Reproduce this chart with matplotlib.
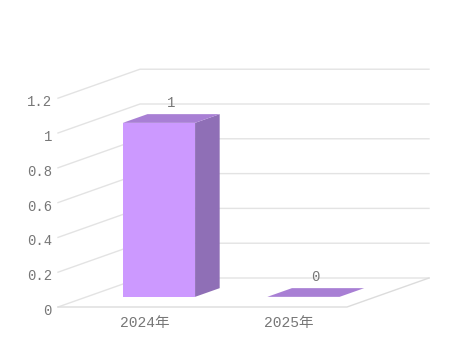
import matplotlib
matplotlib.use("Agg")
import matplotlib.pyplot as plt
from matplotlib.patches import Polygon

plt.rcParams['font.family'] = ['Liberation Mono', 'Noto Sans CJK SC', 'DejaVu Sans']

# data
categories = ['2024年', '2025年']
values = [1, 0]
yticks = [0, 0.2, 0.4, 0.6, 0.8, 1, 1.2]
ytick_labels = ['0', '0.2', '0.4', '0.6', '0.8', '1', '1.2']

# fake 3d: a depth step of 1 moves the point right and up
DX = 82 / 144.5
DY = 29 / 174.0
BAR_W = 0.5
D0, D1 = 0.35, 0.65


def proj(c, v, d):
    return (c + DX * d, v + DY * d)


fig = plt.figure(figsize=(4.65, 3.45), dpi=100)
ax = fig.add_axes([0, 0, 1, 1])
ax.set_xlim(-0.5 - 58 / 144.5, -0.5 + 407 / 144.5)
ax.set_ylim(-38 / 174.0, 307 / 174.0)
ax.axis('off')

grid_col = '#e3e3e3'
left = -0.5
right = len(categories) - 0.5

# walls / grid
for v in yticks:
    a = proj(left, v, 0)
    b = proj(left, v, 1)
    c = proj(right, v, 1)
    ax.plot([a[0], b[0], c[0]], [a[1], b[1], c[1]], color=grid_col, lw=1, zorder=1)
# floor
fl = [proj(left, 0, 0), proj(right, 0, 0), proj(right, 0, 1)]
ax.plot([p[0] for p in fl], [p[1] for p in fl], color='#dcdcdc', lw=1, zorder=1)

front_col = '#cc99ff'
top_col = '#a87fd4'
side_col = '#8f6fb6'

for i, val in enumerate(values):
    x0 = i - BAR_W / 2
    x1 = i + BAR_W / 2
    top = [proj(x0, val, D0), proj(x1, val, D0), proj(x1, val, D1), proj(x0, val, D1)]
    if val > 0:
        front = [proj(x0, 0, D0), proj(x1, 0, D0), proj(x1, val, D0), proj(x0, val, D0)]
        side = [proj(x1, 0, D0), proj(x1, 0, D1), proj(x1, val, D1), proj(x1, val, D0)]
        ax.add_patch(Polygon(front, closed=True, fc=front_col, ec='none', zorder=3))
        ax.add_patch(Polygon(side, closed=True, fc=side_col, ec='none', zorder=3))
    ax.add_patch(Polygon(top, closed=True, fc=top_col, ec='none', zorder=3))
    lx, ly = proj(i, val, 0.5)
    ax.annotate('{:g}'.format(val), (lx, ly), xytext=(0, 6), textcoords='offset points',
                ha='center', va='bottom', fontsize=10, color='#777777', zorder=4)
    ax.text(i + 0.1, -0.092, categories[i], ha='center', va='center',
            fontsize=10.5, color='#777777')

for v, lab in zip(yticks, ytick_labels):
    ax.text(-0.5 - 6 / 144.5, v - 4 / 174.0, lab, ha='right', va='center',
            fontsize=10, color='#777777')

fig.savefig('out.png', dpi=100)
